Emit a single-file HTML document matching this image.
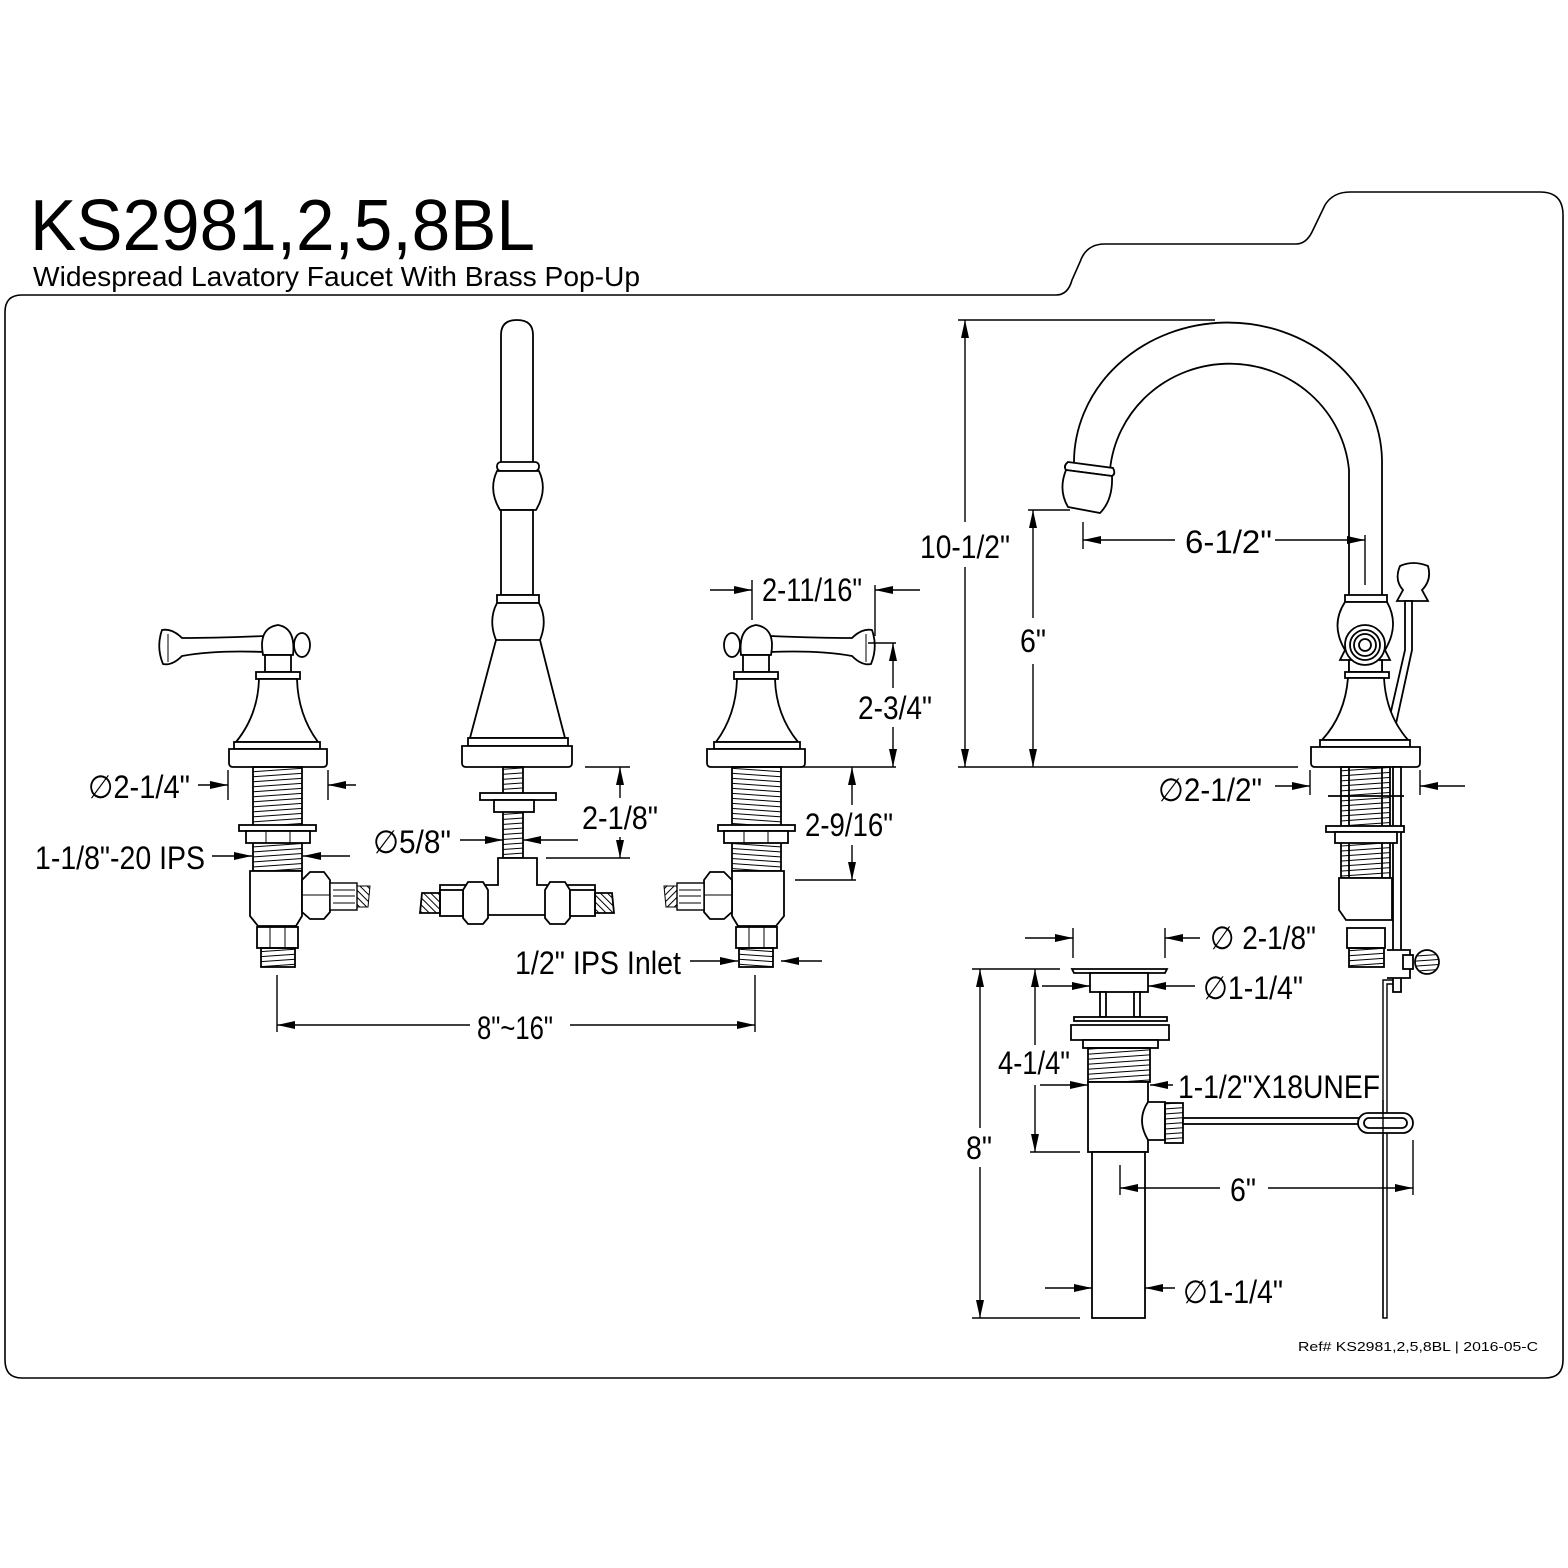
<!DOCTYPE html>
<html><head><meta charset="utf-8"><style>
html,body{margin:0;padding:0;background:#fff}
svg{display:block}
text{font-family:"Liberation Sans",sans-serif;fill:#000}
</style></head><body>
<svg width="1568" height="1568" viewBox="0 0 1568 1568" xmlns="http://www.w3.org/2000/svg">
<defs>
<marker id="a" viewBox="0 0 18 10" refX="18" refY="5" markerWidth="18" markerHeight="10" markerUnits="userSpaceOnUse" orient="auto"><path d="M0 1 L18 5 L0 9 Z" fill="#000"/></marker>
<pattern id="th" width="8" height="5" patternUnits="userSpaceOnUse" patternTransform="rotate(-4)"><line x1="0" y1="2.5" x2="8" y2="2.5" stroke="#000" stroke-width="1"/></pattern>
<pattern id="br" width="5" height="5" patternUnits="userSpaceOnUse" patternTransform="rotate(45)"><line x1="0" y1="2" x2="5" y2="2" stroke="#000" stroke-width="1"/></pattern>
<g id="valve">
 <path d="M162 630 Q156 647 163 664 Q172 666 182 656 Q215 650 264 652 L264 636 Q215 638 182 638 Q172 628 162 630 Z" fill="#fff" stroke="#000" stroke-width="1.8"/>
 <line x1="168" y1="634" x2="168" y2="662" stroke="#000"/>
 <path d="M263 655 Q258 628 278 625 Q296 628 293 655 Z" fill="#fff" stroke="#000" stroke-width="1.8"/>
 <ellipse cx="302" cy="645" rx="8" ry="12" fill="#fff" stroke="#000" stroke-width="1.8"/>
 <rect x="265" y="655" width="26" height="17" fill="#fff" stroke="#000" stroke-width="1.8"/>
 <rect x="256" y="672" width="44" height="7" fill="#fff" stroke="#000" stroke-width="1.8"/>
 <path d="M259 679 Q258 715 236 742 L318 742 Q298 715 297 679 Z" fill="#fff" stroke="#000" stroke-width="1.8"/>
 <rect x="234" y="742" width="86" height="7" fill="#fff" stroke="#000" stroke-width="1.8"/>
 <path d="M229 749 L327 749 L327 763 Q327 767 323 767 L233 767 Q229 767 229 763 Z" fill="#fff" stroke="#000" stroke-width="1.8"/>
 <rect x="253" y="767" width="49" height="104" fill="url(#th)" stroke="#000" stroke-width="1.8"/>
 <rect x="239" y="825" width="77" height="6" fill="#fff" stroke="#000" stroke-width="1.8"/>
 <rect x="246" y="831" width="64" height="12" fill="#fff" stroke="#000" stroke-width="1.8"/>
 <line x1="266" y1="831" x2="266" y2="843" stroke="#000"/><line x1="290" y1="831" x2="290" y2="843" stroke="#000"/>
 <path d="M250 871 L302 871 L302 916 L296 926 L258 926 L250 916 Z" fill="#fff" stroke="#000" stroke-width="1.8"/>
 <path d="M302 880 L310 872 L324 872 L330 880 L330 912 L324 919 L310 919 L302 912 Z" fill="#fff" stroke="#000" stroke-width="1.8"/>
 <line x1="302" y1="895" x2="330" y2="895" stroke="#000"/>
 <rect x="330" y="883" width="27" height="27" fill="#fff" stroke="#000" stroke-width="1.4"/>
 <line x1="333" y1="890" x2="355" y2="890" stroke="#000"/><line x1="333" y1="896" x2="355" y2="896" stroke="#000"/><line x1="333" y1="903" x2="355" y2="903" stroke="#000"/>
 <path d="M357 886 L370 886 L368 907 L357 907 Z" fill="url(#br)" stroke="#000"/>
 <rect x="257" y="927" width="41" height="21" fill="#fff" stroke="#000" stroke-width="1.8"/>
 <line x1="270" y1="927" x2="270" y2="948" stroke="#000"/><line x1="285" y1="927" x2="285" y2="948" stroke="#000"/>
 <rect x="261" y="948" width="34" height="19" fill="url(#th)" stroke="#000" stroke-width="1.8"/>
</g>
</defs>

<text x="30" y="250" font-size="72" textLength="505" lengthAdjust="spacingAndGlyphs">KS2981,2,5,8BL</text>
<text x="33" y="286" font-size="28" textLength="607" lengthAdjust="spacingAndGlyphs">Widespread Lavatory Faucet With Brass Pop-Up</text>

<path d="M22 295 L1056 295 Q1068 295 1072 280 L1080 262 Q1086 244 1105 244 L1296 244 Q1306 244 1312 232 L1325 205 Q1333 192 1350 192 L1540 192 Q1563 192 1563 215 L1563 1360 Q1563 1378 1545 1378 L22 1378 Q5 1378 5 1360 L5 312 Q5 295 22 295 Z" fill="none" stroke="#000" stroke-width="1.6"/>

<use href="#valve"/>
<use href="#valve" transform="translate(1034,0) scale(-1,1)"/>

<g fill="#fff" stroke="#000" stroke-width="1.8">
 <path d="M501 465 L501 335 Q501 320 517 320 Q533 320 533 335 L533 465 Z"/>
 <rect x="497" y="462" width="42" height="9" rx="4"/>
 <path d="M497 471 Q488 490 500 510 L536 510 Q548 490 539 471 Z"/>
 <rect x="501" y="510" width="32" height="85"/>
 <rect x="497" y="595" width="42" height="8"/>
 <path d="M497 603 Q488 620 496 640 Q480 700 470 738 L565 738 Q555 700 540 640 Q548 620 539 603 Z"/>
 <line x1="496" y1="640" x2="540" y2="640"/>
 <rect x="468" y="738" width="100" height="8"/>
 <path d="M462 746 L572 746 L572 763 Q572 767 568 767 L466 767 Q462 767 462 763 Z"/>
 <rect x="503" y="767" width="20" height="91" fill="url(#th)"/>
 <rect x="480" y="793" width="76" height="7"/>
 <rect x="494" y="800" width="40" height="12"/>
 <path d="M498 858 L537 858 L537 885 L595 885 L595 915 L440 915 L440 885 L498 885 Z"/>
 <path d="M463 890 L468 882 L483 882 L488 890 L488 918 L483 924 L468 924 L463 918 Z"/>
 <path d="M545 890 L550 882 L565 882 L570 890 L570 918 L565 924 L550 924 L545 918 Z"/>
 <rect x="440" y="890" width="23" height="26"/><rect x="570" y="890" width="25" height="26"/>
 <path d="M422 893 L440 893 L440 913 L420 913 Z" fill="url(#br)"/>
 <path d="M595 893 L612 893 L614 913 L595 913 Z" fill="url(#br)"/>
</g>

<g fill="none" stroke="#000" stroke-width="1.8">
 <path d="M1382 880 L1382 460 A154 140 0 0 0 1074 465"/>
 <path d="M1349 880 L1349 470 A120 117 0 0 0 1110 470"/>
</g>
<g fill="#fff" stroke="#000" stroke-width="1.8">
 <path d="M1068 462 L1113 468 Q1116 474 1112 476 L1066 470 Q1063 466 1068 462 Z"/>
 <path d="M1066 470 L1112 476 Q1113 500 1100 513 L1068 507 Q1058 490 1066 470 Z"/>
 <path d="M1400 566 Q1413 560 1428 566 Q1432 580 1422 590 L1428 601 L1397 601 L1403 590 Q1394 580 1400 566 Z"/>
 <path d="M1405 601 L1405 650 L1384 742 L1392 742 L1412 650 L1412 601 Z"/>
 <rect x="1345" y="595" width="42" height="7"/>
 <path d="M1345 602 Q1330 625 1345 650 L1340 660 L1390 660 L1385 650 Q1400 625 1387 602 Z"/>
 <rect x="1349" y="660" width="33" height="12"/>
 <rect x="1345" y="672" width="44" height="6"/>
 <path d="M1348 678 Q1345 715 1322 740 L1408 740 Q1386 715 1384 678 Z"/>
 <circle cx="1365" cy="645" r="20"/><circle cx="1365" cy="645" r="15"/><circle cx="1365" cy="645" r="11"/><circle cx="1365" cy="645" r="6"/>
 <rect x="1320" y="740" width="90" height="7"/>
 <path d="M1311 747 L1420 747 L1420 763 Q1420 767 1416 767 L1315 767 Q1311 767 1311 763 Z"/>
 <rect x="1341" y="767" width="49" height="111" fill="url(#th)"/>
 <rect x="1393" y="767" width="8" height="225"/>
 <line x1="1328" y1="796" x2="1404" y2="796"/>
 <rect x="1326" y="826" width="78" height="6"/>
 <rect x="1335" y="832" width="62" height="11"/>
 <path d="M1339 878 L1392 878 L1392 920 L1346 920 L1339 910 Z"/>
 <rect x="1347" y="928" width="38" height="20"/>
 <rect x="1349" y="948" width="35" height="19" fill="url(#th)"/>
 <path d="M1387 950 L1410 950 L1410 978 L1387 978"/>
 <circle cx="1427" cy="962" r="12" fill="url(#th)"/>
 <rect x="1403" y="955" width="10" height="14"/>
</g>
<path d="M1393 980 L1383 980 L1383 1318 L1387 1318 L1387 984 L1393 984" fill="none" stroke="#000" stroke-width="1.4"/>

<g fill="#fff" stroke="#000" stroke-width="1.8">
 <path d="M1072 969 L1167 969 L1165 973 L1074 973 Z"/>
 <rect x="1090" y="973" width="58" height="19"/>
 <rect x="1100" y="992" width="6" height="25"/><rect x="1134" y="992" width="6" height="25"/>
 <rect x="1074" y="1017" width="93" height="4"/>
 <path d="M1071 1025 L1169 1025 L1169 1040 L1071 1040 Z"/>
 <rect x="1083" y="1040" width="75" height="8"/>
 <rect x="1088" y="1048" width="62" height="34" fill="url(#th)"/>
 <rect x="1088" y="1082" width="60" height="70"/>
 <path d="M1148 1102 Q1136 1120 1148 1140 L1165 1140 L1165 1102 Z"/>
 <rect x="1165" y="1103" width="18" height="40" fill="url(#th)"/>
 <rect x="1183" y="1118" width="178" height="6"/>
 <rect x="1358" y="1113" width="55" height="20" rx="10"/>
 <rect x="1364" y="1118" width="43" height="10" rx="5"/>
 <rect x="1092" y="1152" width="53" height="166"/>
</g>
<line x1="1383" y1="1100" x2="1383" y2="1318" stroke="#000" stroke-width="1.4"/>

<g stroke="#000" stroke-width="1.4" fill="none">
 <line x1="228" y1="770" x2="228" y2="800"/><line x1="328" y1="770" x2="328" y2="800"/>
 <line x1="198" y1="785" x2="228" y2="785" marker-end="url(#a)"/><line x1="356" y1="785" x2="328" y2="785" marker-end="url(#a)"/>
 <line x1="212" y1="856" x2="252" y2="856" marker-end="url(#a)"/><line x1="350" y1="856" x2="303" y2="856" marker-end="url(#a)"/>
 <line x1="277" y1="975" x2="277" y2="1032"/><line x1="755" y1="975" x2="755" y2="1032"/>
 <line x1="470" y1="1025" x2="277" y2="1025" marker-end="url(#a)"/><line x1="570" y1="1025" x2="755" y2="1025" marker-end="url(#a)"/>
 <line x1="690" y1="961" x2="738" y2="961" marker-end="url(#a)"/><line x1="822" y1="961" x2="781" y2="961" marker-end="url(#a)"/>
 <line x1="460" y1="840" x2="503" y2="840" marker-end="url(#a)"/><line x1="578" y1="840" x2="523" y2="840" marker-end="url(#a)"/>
 <line x1="585" y1="767" x2="630" y2="767"/><line x1="546" y1="858" x2="630" y2="858"/>
 <line x1="620" y1="798" x2="620" y2="767" marker-end="url(#a)"/><line x1="620" y1="837" x2="620" y2="858" marker-end="url(#a)"/>
 <line x1="752" y1="580" x2="752" y2="620"/><line x1="875" y1="585" x2="875" y2="636"/>
 <line x1="710" y1="590" x2="752" y2="590" marker-end="url(#a)"/><line x1="920" y1="590" x2="875" y2="590" marker-end="url(#a)"/>
 <line x1="868" y1="643" x2="896" y2="643"/><line x1="800" y1="767" x2="896" y2="767"/>
 <line x1="893" y1="688" x2="893" y2="643" marker-end="url(#a)"/><line x1="893" y1="727" x2="893" y2="767" marker-end="url(#a)"/>
 <line x1="795" y1="880" x2="856" y2="880"/>
 <line x1="852" y1="805" x2="852" y2="767" marker-end="url(#a)"/><line x1="852" y1="845" x2="852" y2="880" marker-end="url(#a)"/>
 <line x1="958" y1="320" x2="1215" y2="320"/><line x1="958" y1="767" x2="1298" y2="767"/>
 <line x1="965" y1="522" x2="965" y2="320" marker-end="url(#a)"/><line x1="965" y1="567" x2="965" y2="767" marker-end="url(#a)"/>
 <line x1="1028" y1="510" x2="1070" y2="510"/>
 <line x1="1033" y1="618" x2="1033" y2="510" marker-end="url(#a)"/><line x1="1033" y1="664" x2="1033" y2="767" marker-end="url(#a)"/>
 <line x1="1083" y1="522" x2="1083" y2="549"/><line x1="1365" y1="535" x2="1365" y2="585"/>
 <line x1="1175" y1="540" x2="1083" y2="540" marker-end="url(#a)"/><line x1="1275" y1="540" x2="1365" y2="540" marker-end="url(#a)"/>
 <line x1="1310" y1="770" x2="1310" y2="795"/><line x1="1420" y1="770" x2="1420" y2="795"/>
 <line x1="1275" y1="786" x2="1310" y2="786" marker-end="url(#a)"/><line x1="1465" y1="786" x2="1420" y2="786" marker-end="url(#a)"/>
 <line x1="1073" y1="928" x2="1073" y2="958"/><line x1="1165" y1="928" x2="1165" y2="958"/>
 <line x1="1025" y1="938" x2="1073" y2="938" marker-end="url(#a)"/><line x1="1200" y1="938" x2="1165" y2="938" marker-end="url(#a)"/>
 <line x1="1042" y1="986" x2="1090" y2="986" marker-end="url(#a)"/><line x1="1195" y1="986" x2="1148" y2="986" marker-end="url(#a)"/>
 <line x1="972" y1="969" x2="1060" y2="969"/>
 <line x1="980" y1="1128" x2="980" y2="969" marker-end="url(#a)"/><line x1="980" y1="1167" x2="980" y2="1318" marker-end="url(#a)"/>
 <line x1="972" y1="1318" x2="1080" y2="1318"/>
 <line x1="1035" y1="1045" x2="1035" y2="969" marker-end="url(#a)"/><line x1="1035" y1="1085" x2="1035" y2="1152" marker-end="url(#a)"/>
 <line x1="1030" y1="1152" x2="1080" y2="1152"/>
 <line x1="1040" y1="1085" x2="1088" y2="1085" marker-end="url(#a)"/><line x1="1173" y1="1085" x2="1150" y2="1085" marker-end="url(#a)"/>
 <line x1="1120" y1="1165" x2="1120" y2="1195"/><line x1="1413" y1="1140" x2="1413" y2="1195"/>
 <line x1="1220" y1="1188" x2="1120" y2="1188" marker-end="url(#a)"/><line x1="1268" y1="1188" x2="1413" y2="1188" marker-end="url(#a)"/>
 <line x1="1045" y1="1288" x2="1092" y2="1288" marker-end="url(#a)"/><line x1="1175" y1="1288" x2="1145" y2="1288" marker-end="url(#a)"/>
</g>

<g font-size="32">
 <text x="88" y="798" textLength="102" lengthAdjust="spacingAndGlyphs">∅2-1/4"</text>
 <text x="35" y="869" textLength="170" lengthAdjust="spacingAndGlyphs">1-1/8"-20 IPS</text>
 <text x="477" y="1039" textLength="76" lengthAdjust="spacingAndGlyphs">8"~16"</text>
 <text x="515" y="974" textLength="166" lengthAdjust="spacingAndGlyphs">1/2" IPS Inlet</text>
 <text x="373" y="853" textLength="78" lengthAdjust="spacingAndGlyphs">∅5/8"</text>
 <text x="582" y="829" textLength="76" lengthAdjust="spacingAndGlyphs">2-1/8"</text>
 <text x="762" y="601" textLength="100" lengthAdjust="spacingAndGlyphs">2-11/16"</text>
 <text x="858" y="719" textLength="74" lengthAdjust="spacingAndGlyphs">2-3/4"</text>
 <text x="805" y="836" textLength="88" lengthAdjust="spacingAndGlyphs">2-9/16"</text>
 <text x="920" y="558" textLength="90" lengthAdjust="spacingAndGlyphs">10-1/2"</text>
 <text x="1020" y="652" textLength="26" lengthAdjust="spacingAndGlyphs">6"</text>
 <text x="1185" y="553" textLength="87" lengthAdjust="spacingAndGlyphs">6-1/2"</text>
 <text x="1158" y="801" textLength="104" lengthAdjust="spacingAndGlyphs">∅2-1/2"</text>
 <text x="1210" y="949" textLength="106" lengthAdjust="spacingAndGlyphs">∅ 2-1/8"</text>
 <text x="1203" y="999" textLength="100" lengthAdjust="spacingAndGlyphs">∅1-1/4"</text>
 <text x="998" y="1074" textLength="72" lengthAdjust="spacingAndGlyphs">4-1/4"</text>
 <text x="1178" y="1098" textLength="202" lengthAdjust="spacingAndGlyphs">1-1/2"X18UNEF</text>
 <text x="966" y="1159" textLength="26" lengthAdjust="spacingAndGlyphs">8"</text>
 <text x="1230" y="1201" textLength="26" lengthAdjust="spacingAndGlyphs">6"</text>
 <text x="1183" y="1303" textLength="100" lengthAdjust="spacingAndGlyphs">∅1-1/4"</text>
</g>
<text x="1298" y="1351" font-size="13" textLength="240" lengthAdjust="spacingAndGlyphs">Ref# KS2981,2,5,8BL | 2016-05-C</text>
</svg>
</body></html>
